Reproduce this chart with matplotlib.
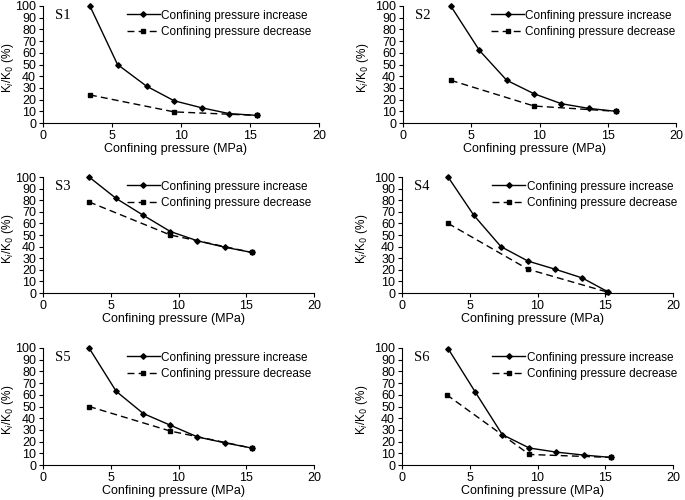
import matplotlib
matplotlib.use('Agg')
from matplotlib import pyplot as plt

plt.rcParams['font.family'] = 'Liberation Sans'
plt.rcParams['font.size'] = 8.5

# pressure values (MPa) and K/K0 (%) for each sample
names = ['S1', 'S2', 'S3', 'S4', 'S5', 'S6']

inc_x = [
    [3.4, 5.4, 7.5, 9.5, 11.5, 13.5, 15.5],
    [3.5, 5.6, 7.6, 9.6, 11.6, 13.6, 15.6],
    [3.4, 5.4, 7.4, 9.4, 11.4, 13.4, 15.4],
    [3.4, 5.3, 7.3, 9.3, 11.3, 13.3, 15.2],
    [3.4, 5.4, 7.4, 9.4, 11.4, 13.4, 15.4],
    [3.4, 5.4, 7.4, 9.4, 11.4, 13.4, 15.4],
]
inc_y = [
    [100, 50, 31.5, 19, 13, 8, 6.5],
    [100, 62, 36.5, 25, 16.5, 12.5, 10],
    [100, 81.5, 67, 53, 45, 39.5, 35],
    [100, 67, 40, 27.5, 20.5, 13, 1],
    [100, 63, 44, 34, 24, 19, 14.5],
    [99.5, 62.5, 26, 14.5, 11, 8.5, 6.5],
]
dec_x = [
    [3.4, 9.5, 15.5],
    [3.5, 9.6, 15.6],
    [3.4, 9.4, 15.4],
    [3.4, 9.3, 15.1],
    [3.4, 9.4, 15.4],
    [3.3, 9.4, 15.4],
]
dec_y = [
    [24, 9.5, 6.5],
    [36.5, 14.5, 10],
    [78.5, 50, 35],
    [60, 20.5, 1],
    [50, 29, 14.5],
    [60, 9, 6.5],
]

W, H = 685, 500
# axes boxes in pixels: left, right, top, bottom
boxes = [
    (43, 319, 6, 123), (403, 676, 6, 123),
    (43, 314, 177, 293), (402, 673, 177, 293),
    (43, 314, 348, 465), (402, 673, 348, 465),
]
leg_x = [0.273, 0.293, 0.278, 0.303, 0.278, 0.303]
ylab_x = [-0.097, -0.117, -0.099, -0.118, -0.099, -0.118]

fig = plt.figure(figsize=(W / 100, H / 100), dpi=100)

for i in range(6):
    l, r, t, b = boxes[i]
    ax = fig.add_axes([l / W, 1 - b / H, (r - l) / W, (b - t) / H])
    ax.plot(inc_x[i], inc_y[i], '-', color='black', lw=1.0, marker='D', ms=2.8,
            label='Confining pressure increase', clip_on=False)
    ax.plot(dec_x[i], dec_y[i], '--', color='black', lw=1.0, marker='s', ms=3.5,
            dashes=(5, 3), label='Confining pressure decrease', clip_on=False)
    ax.set_xlim(0, 20)
    ax.set_ylim(0, 100)
    ax.set_xticks([0, 5, 10, 15, 20])
    ax.set_yticks(range(0, 101, 10))
    ax.spines['top'].set_visible(False)
    ax.spines['right'].set_visible(False)
    ax.tick_params(direction='out', length=3, width=0.8, pad=2, labelsize=9)
    ax.set_xlabel('Confining pressure (MPa)', fontsize=9)
    ax.xaxis.set_label_coords(0.48, -0.175)
    ax.set_ylabel('K$_i$/K$_0$ (%)', fontsize=8.5)
    ax.yaxis.set_label_coords(ylab_x[i], 0.47)
    ax.text(0.045, 0.92, names[i], transform=ax.transAxes, family='Liberation Serif',
            fontsize=10.5, va='center')
    ax.legend(loc='upper left', bbox_to_anchor=(leg_x[i], 1.04), frameon=False,
              handlelength=2.8, handletextpad=0.1, labelspacing=0.35, borderpad=0.2,
              fontsize=8.5)

plt.savefig('out.png', dpi=100)
